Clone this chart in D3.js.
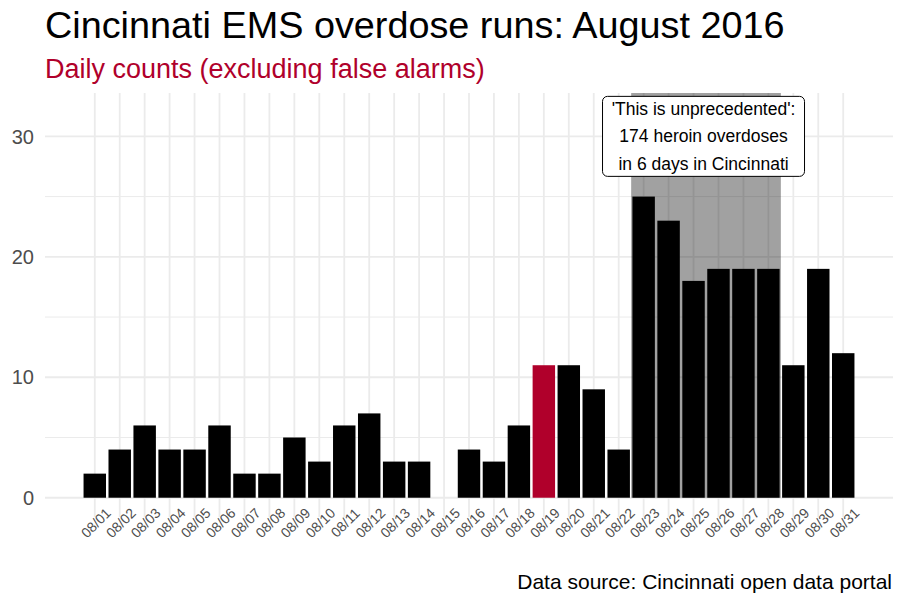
<!DOCTYPE html>
<html lang="en">
<head>
<meta charset="UTF-8">
<title>Cincinnati EMS overdose runs</title>
<script src="https://cdn.jsdelivr.net/npm/d3@7"></script>
<style>
  body { margin: 0; background: #fff; }
  text { font-family: "Liberation Sans", Arial, sans-serif; }
</style>
</head>
<body>
<div class="container"></div>
<script>
// daily counts, August 2016
const dayLabels = ["08/01","08/02","08/03","08/04","08/05","08/06","08/07","08/08","08/09","08/10",
                   "08/11","08/12","08/13","08/14","08/15","08/16","08/17","08/18","08/19","08/20",
                   "08/21","08/22","08/23","08/24","08/25","08/26","08/27","08/28","08/29","08/30","08/31"];
const runs = [2, 4, 6, 4, 4, 6, 2, 2, 5, 3, 6, 7, 3, 3, 0, 4, 3, 6, 11, 11, 9, 4, 25, 23, 18, 19, 19, 19, 11, 19, 12];
const highlightDay = "08/19";
const yTicks = [0, 10, 20, 30];
const yMinor = [5, 15, 25];
// shaded period 08/23 - 08/28
const spikeStart = 23, spikeEnd = 28;
const noteDay = 25.4, noteValue = 30;
const noteLines = ["'This is unprecedented':", "174 heroin overdoses", "in 6 days in Cincinnati"];

const width = 905, height = 603;
const marginLeft = 45, marginRight = 12, marginTop = 93, marginBottom = 86;
const red = "#b0002b";

const data = dayLabels.map((d, i) => ({ label: d, day: i + 1, n: runs[i] }));

// date-like continuous x (day of month), 5% expansion on both sides
const lo = 1 - 0.45, hi = 31 + 0.45, pad = (hi - lo) * 0.05;
const x = d3.scaleLinear().domain([lo - pad, hi + pad]).range([marginLeft, width - marginRight]);
const yMax = 32, yPad = yMax * 0.05;
const y = d3.scaleLinear().domain([-yPad, yMax + yPad]).range([height - marginBottom, marginTop]);
const bw = x(1.9) - x(1);

const svg = d3.create("svg")
    .attr("width", width)
    .attr("height", height)
    .attr("viewBox", [0, 0, width, height]);

// grid
const grid = svg.append("g").attr("stroke", "#ebebeb");
grid.selectAll(".minor").data(yMinor).join("line")
    .attr("x1", marginLeft).attr("x2", width - marginRight)
    .attr("y1", d => y(d)).attr("y2", d => y(d))
    .attr("stroke-width", 1);
grid.selectAll(".hmaj").data(yTicks).join("line")
    .attr("x1", marginLeft).attr("x2", width - marginRight)
    .attr("y1", d => y(d)).attr("y2", d => y(d))
    .attr("stroke-width", 1.8);
grid.selectAll(".vmaj").data(data).join("line")
    .attr("x1", d => x(d.day)).attr("x2", d => x(d.day))
    .attr("y1", marginTop).attr("y2", height - marginBottom)
    .attr("stroke-width", 1.8);

// shaded spike period, from zero up to the top of the panel
svg.append("rect")
    .attr("x", x(spikeStart - 0.5))
    .attr("width", x(spikeEnd + 0.5) - x(spikeStart - 0.5))
    .attr("y", marginTop)
    .attr("height", y(0) - marginTop)
    .attr("fill", "black")
    .attr("fill-opacity", 0.37);

// bars
svg.append("g")
    .selectAll("rect")
    .data(data.filter(d => d.n > 0))
    .join("rect")
      .attr("x", d => x(d.day) - bw / 2)
      .attr("y", d => y(d.n))
      .attr("width", bw)
      .attr("height", d => y(0) - y(d.n))
      .attr("fill", d => d.label === highlightDay ? red : "black");

// y axis labels
svg.append("g")
    .selectAll("text")
    .data(yTicks)
    .join("text")
      .attr("x", 34)
      .attr("y", d => y(d))
      .attr("dy", "0.36em")
      .attr("text-anchor", "end")
      .attr("font-size", 20)
      .attr("fill", "#4d4d4d")
      .text(d => d);

// x axis labels, rotated and centred under the tick
svg.append("g")
    .selectAll("text")
    .data(data)
    .join("text")
      .attr("transform", d => `translate(${x(d.day) + 1},${y(0) + 25}) rotate(-45)`)
      .attr("text-anchor", "middle")
      .attr("dy", "0.36em")
      .attr("font-size", 14)
      .attr("fill", "#4d4d4d")
      .text(d => d.label);

// annotation label
const note = svg.append("g")
    .attr("transform", `translate(${x(noteDay)},${y(noteValue)})`);
const lineH = 27.5;
note.append("rect")
    .attr("x", -101).attr("y", -40)
    .attr("width", 202).attr("height", 80)
    .attr("rx", 5)
    .attr("fill", "white")
    .attr("stroke", "black")
    .attr("stroke-width", 1);
note.selectAll("text")
    .data(noteLines)
    .join("text")
      .attr("x", 0)
      .attr("y", (d, i) => (i - 1) * lineH)
      .attr("dy", "0.35em")
      .attr("text-anchor", "middle")
      .attr("font-size", 17.5)
      .attr("fill", "black")
      .text(d => d);

// titles
svg.append("text")
    .attr("x", 45).attr("y", 38)
    .attr("font-size", 37.8)
    .attr("fill", "black")
    .text("Cincinnati EMS overdose runs: August 2016");
svg.append("text")
    .attr("x", 45).attr("y", 78)
    .attr("font-size", 27)
    .attr("fill", red)
    .text("Daily counts (excluding false alarms)");
svg.append("text")
    .attr("x", 892).attr("y", 589)
    .attr("text-anchor", "end")
    .attr("font-size", 21)
    .attr("fill", "black")
    .text("Data source: Cincinnati open data portal");

document.querySelector(".container").appendChild(svg.node());
</script>
</body>
</html>
